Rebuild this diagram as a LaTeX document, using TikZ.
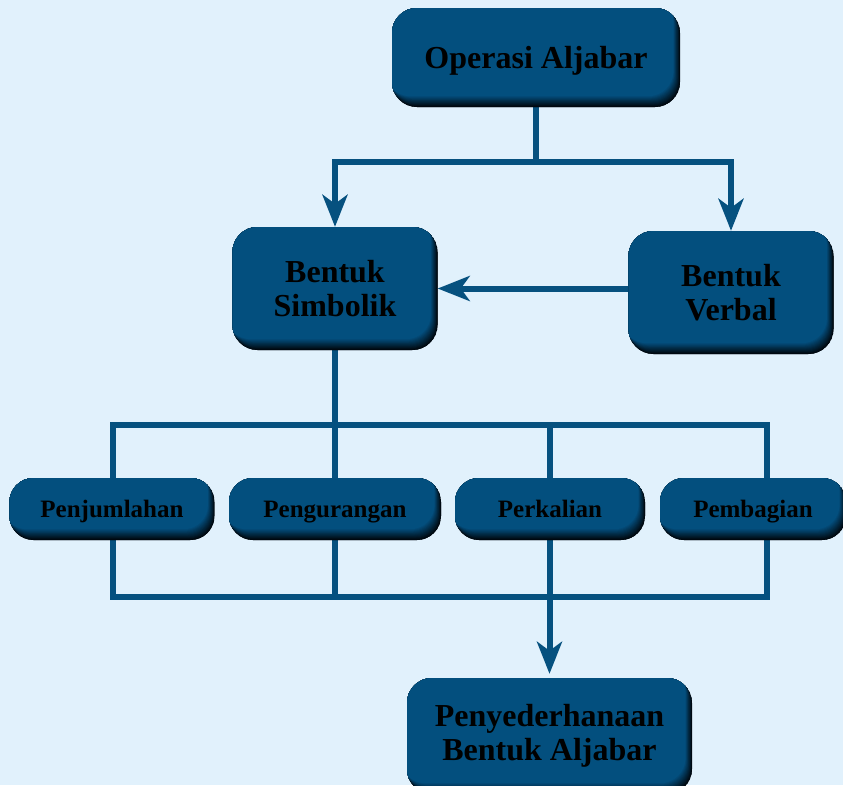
\documentclass[tikz,border=0pt]{standalone}
\usepackage{fontspec}
\setmainfont{Liberation Serif}
\usetikzlibrary{arrows.meta}
\definecolor{bgc}{HTML}{E1F1FC}
\definecolor{boxc}{HTML}{034F7E}
\definecolor{shc}{HTML}{00080F}
\definecolor{linec}{HTML}{06517F}
\pgfdeclarelayer{bg}
\pgfdeclarelayer{lines}
\pgfsetlayers{bg,lines,main}
\tikzset{
  box/.style={rectangle, rounded corners=#1, fill=shc, inner sep=0pt, align=center,
    text=black,
    path picture={
      \foreach \i in {0,...,12}{
        \pgfmathsetmacro\p{100*\i/12}
        \fill[boxc!\p!shc, rounded corners=#1]
          ([shift={(-0.55*\i pt,0.9*\i pt)}]path picture bounding box.south west) rectangle
          ([shift={(-0.55*\i pt,0.9*\i pt)}]path picture bounding box.north east);
      }
    }},
  bigbox/.style={box=25pt, font=\bfseries\fontsize{32}{34}\selectfont},
  onebox/.style={bigbox, text height=22pt, text depth=0pt},
  sbox/.style={box=24pt, minimum height=62pt, text height=17pt, text depth=0pt,
    font=\bfseries\fontsize{25}{27}\selectfont},
  conn/.style={draw=linec, line width=6pt},
  arr/.style={conn, -{Stealth[length=32pt,width=25pt,inset=9pt]}}
}
\begin{document}
\begin{tikzpicture}[x=1pt,y=-1pt]
\begin{pgfonlayer}{bg}
\fill[bgc] (0,0) rectangle (843,785);
\end{pgfonlayer}
\useasboundingbox (0,0) rectangle (843,785);

\node[onebox, minimum width=288pt, minimum height=99pt] (op) at (536,57.5) {Operasi Aljabar};
\node[bigbox, minimum width=205pt, minimum height=123pt] (sim) at (335,288.5) {Bentuk\\Simbolik};
\node[bigbox, minimum width=205pt, minimum height=123pt] (verb) at (731,292.5) {Bentuk\\Verbal};
\node[sbox, minimum width=205pt] (pj) at (112,509) {Penjumlahan};
\node[sbox, minimum width=212pt] (pg) at (335,509) {Pengurangan};
\node[sbox, minimum width=190pt] (pk) at (550,509) {Perkalian};
\node[sbox, minimum width=186pt] (pb) at (753,509) {Pembagian};
\node[bigbox, minimum width=285pt, minimum height=116pt] (peny) at (549.5,736) {Penyederhanaan\\Bentuk Aljabar};

\begin{pgfonlayer}{lines}
\coordinate (h) at (0,161.5);
\coordinate (t) at (0,425);
\coordinate (b) at (0,597);
\coordinate (xl) at (113,0);
\coordinate (xr) at (767,0);
\draw[conn] (op.south) -- (op.south |- h);
\draw[conn, line cap=rect] (sim.north |- h) -- (verb.north |- h);
\draw[arr] (sim.north |- h) -- (sim.north);
\draw[arr] (verb.north |- h) -- (verb.north);
\draw[arr] (verb.west |- sim.east) -- (sim.east);
\draw[conn] (sim.south) -- (sim.south |- t);
\draw[conn] (xl |- b) -- (xl |- t) -- (xr |- t) -- (xr |- b) -- cycle;
\draw[conn] (pg.center |- t) -- (pg.center |- b);
\draw[conn] (peny.north |- t) -- (peny.north |- b);
\draw[arr, shorten >=4pt] (peny.north |- b) -- (peny.north);
\end{pgfonlayer}
\end{tikzpicture}
\end{document}
